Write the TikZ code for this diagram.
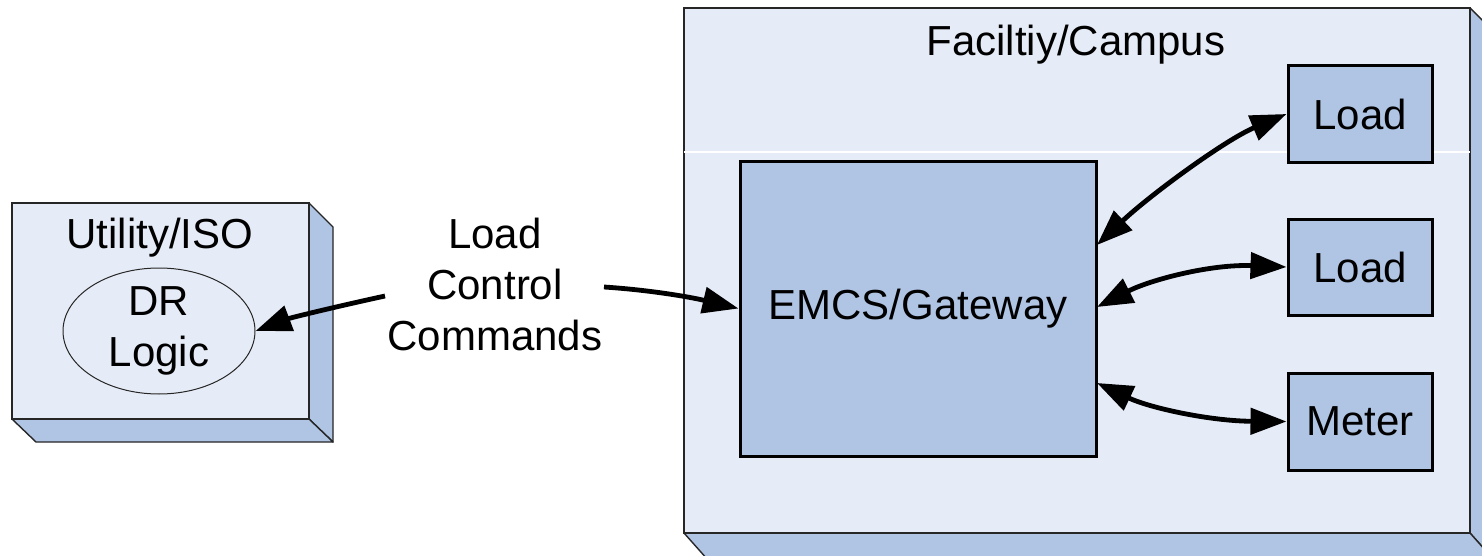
\documentclass[tikz,border=0pt]{standalone}
\usepackage{fontspec}
\setmainfont{Liberation Sans}
\usetikzlibrary{arrows.meta,shapes.geometric}
\definecolor{facelight}{RGB}{230,236,247}
\definecolor{faceside}{RGB}{176,196,228}
\tikzset{
  sideface/.style={fill=faceside,draw=black!85,line width=0.7pt,line join=round},
  frontface/.style={fill=facelight,draw=black!85,line width=0.7pt,inner sep=0pt},
  blockbox/.style={fill=faceside,draw=black,line width=1.5pt,inner sep=0pt,font=\fontsize{21}{25.5}\selectfont},
  txt/.style={font=\fontsize{21}{25.5}\selectfont,align=center,inner sep=0pt},
  conn/.style={line width=2.4pt,-{Triangle[length=18pt,width=13pt]}},
  bconn/.style={line width=2.4pt,{Triangle[length=18pt,width=13pt]}-{Triangle[length=18pt,width=13pt]}}
}
\begin{document}
\begin{tikzpicture}[x=0.5pt,y=-0.5pt]
\useasboundingbox (0,0) rectangle (1482,556);
\clip (0,0) rectangle (1482,556);
\fill[white] (0,0) rectangle (1482,556);
% Utility/ISO block
\draw[sideface] (309,203) -- (333,227) -- (333,442) -- (309,419) -- cycle;
\draw[sideface] (12,419) -- (36,442) -- (333,442) -- (309,419) -- cycle;
\node[frontface,minimum width=148.5pt,minimum height=108pt] (util) at (160.5,311) {};
\node[txt] (utiltitle) at (160,238) {Utility/ISO};
\node[ellipse,fill=facelight,draw=black!85,line width=0.5pt,minimum width=96pt,minimum height=63pt,inner sep=0pt,txt] (dr) at (159,331) {DR\\Logic};
% Facility/Campus block
\draw[sideface] (1470,8) -- (1494,32) -- (1494,560) -- (1470,533) -- cycle;
\draw[sideface] (684,533) -- (708,560) -- (1494,560) -- (1470,533) -- cycle;
\node[frontface,minimum width=393pt,minimum height=262.5pt] (fac) at (1077,270.5) {};
\draw[white,line width=0.6pt] (684,152) -- (1470,152);
\node[txt] (factitle) at (1076,45) {Faciltiy/Campus};
\node[blockbox,minimum width=178pt,minimum height=147.5pt] (emcs) at (918,308.5) {EMCS/Gateway};
\node[blockbox,minimum width=72pt,minimum height=48pt] (load1) at (1360,114) {Load};
\node[blockbox,minimum width=72pt,minimum height=48pt] (load2) at (1360,267) {Load};
\node[blockbox,minimum width=72pt,minimum height=48.5pt] (meter) at (1360,421.5) {Meter};
% commands label
\node[txt] (cmd) at (495,284) {Load\\Control\\Commands};
\coordinate (cmdl) at (385,296);
\coordinate (cmdr) at (604,287);
\draw[conn] (cmdl) .. controls (330,308) and (290,318) .. (dr.east);
\draw[conn] (cmdr) .. controls (650,290) and (690,297) .. (emcs.west);
% links
\coordinate (e1) at (1097,245);
\coordinate (e2) at (1097,307);
\coordinate (e3) at (1097,383);
\draw[bconn] (e1) .. controls (1150,195) and (1225,140) .. (load1.west);
\draw[bconn] (e2) .. controls (1150,280) and (1210,264) .. (load2.west);
\draw[bconn] (e3) .. controls (1150,408) and (1210,421) .. (meter.west);
\end{tikzpicture}
\end{document}
